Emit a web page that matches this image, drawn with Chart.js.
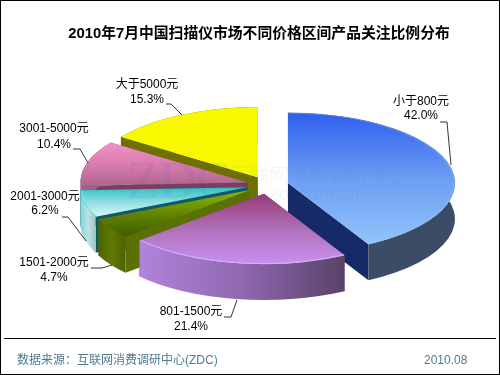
<!DOCTYPE html>
<html><head><meta charset="utf-8">
<style>html,body{margin:0;padding:0;background:#fff}canvas{display:block}</style>
<script src="https://cdn.jsdelivr.net/npm/chart.js@4"></script>
</head><body>
<canvas id="c" width="500" height="375"></canvas>
<script>
const titleText = '2010年7月中国扫描仪市场不同价格区间产品关注比例分布';
const categories = ['小于800元','801-1500元','1501-2000元','2001-3000元','3001-5000元','大于5000元'];
const shares = [42.0,21.4,4.7,6.2,10.4,15.3];
const sourceText = '数据来源：互联网消费调研中心(ZDC)';
const dateText = '2010.08';

const FONT = '"Liberation Sans","Noto Sans CJK SC",sans-serif';
const TILT = 0.42, DEPTH = 36, EXPLODE = 21, RADIUS = 167;
const paintOrder = [5,0,4,3,2,1];
const baseColors = ['#5F90F2','#B070C8','#5F8200','#60D0D5','#D078A8','#F8F800'];
const topStops = [
  ['#2F5EEE','#6C9EF4','#92C4FA'],
  ['#983878','#B070B8','#C890F0'],
  ['#8CBA00','#628600','#3F5C00'],
  ['#2FBFC5','#8FDEE0','#DAF6F6'],
  ['#F590C8','#D87CB0','#B0668E'],
  ['#F8F800','#F8F800','#F8F800']
];
const wallStops = [
  ['#3E5570','#41566F','#3A4C66'],
  ['#B084DC','#9068B0','#584268'],
  ['#4E6400','#5F7800','#4E6300'],
  ['#78D8D8','#BFE2E2','#A0C4C4'],
  ['#A06080','#A06080','#A06080'],
  ['#6E7000','#6E7000','#6E7000']
];
const cutColors = ['#152A66','#5C4470','#5A7000','#0F5A6A','#7A3E60','#6E7000'];
const rimColors = ['rgba(150,190,240,.35)','#D8ACFC',null,'rgba(127,239,240,.8)',null,null];
const labelSpots = [[421,102,116],[191,312,327],[54,263,278],[45,197,211],[54,129,145],[147,85,100]];
const leaders = [
  [[440,122],[447,122],[451,165]],
  [[224,317],[231,317],[237,300]],
  [[91,268],[102,268],[112,265]],
  [[62,217],[68,217],[86,241]],
  [[73,149],[80,149],[88,163]],
  [[166,104],[171,104],[182,115]]
];

function vGrad(ctx,y0,y1,stops){
  const g=ctx.createLinearGradient(0,y0,0,y1);
  stops.forEach((c,i)=>g.addColorStop(i/(stops.length-1),c));
  return g;
}
function hGrad(ctx,x0,x1,stops){
  const g=ctx.createLinearGradient(x0,0,x1,0);
  stops.forEach((c,i)=>g.addColorStop(i/(stops.length-1),c));
  return g;
}
const pie3d = {
  id:'pie3d',
  afterLayout(chart){ chart.titleBlock.left -= 8.6; chart.titleBlock.right -= 8.6; },
  beforeDatasetsDraw(chart){
    const ctx=chart.ctx, arcs=chart.getDatasetMeta(0).data;
    paintOrder.forEach(i=>{
      const el=arcs[i];
      const {x,y,startAngle:a0,endAngle:a1,outerRadius:r}=el.getProps(['x','y','startAngle','endAngle','outerRadius'],true);
      const mid=(a0+a1)/2;
      const ox=x+Math.cos(mid)*EXPLODE, oy=y+Math.sin(mid)*EXPLODE*TILT;
      const px=a=>ox+Math.cos(a)*r, py=a=>oy+Math.sin(a)*r*TILT;
      ctx.fillStyle=cutColors[i];
      [a0,a1].forEach(a=>{
        ctx.beginPath();
        ctx.moveTo(ox,oy);ctx.lineTo(px(a),py(a));
        ctx.lineTo(px(a),py(a)+DEPTH);ctx.lineTo(ox,oy+DEPTH);
        ctx.closePath();ctx.fill();
      });
      const xs=[px(a0),px(a1)];
      ctx.beginPath();
      ctx.ellipse(ox,oy,r,r*TILT,0,a0,a1);
      ctx.ellipse(ox,oy+DEPTH,r,r*TILT,0,a1,a0,true);
      ctx.closePath();
      ctx.fillStyle=hGrad(ctx,Math.min(...xs),Math.max(...xs),wallStops[i]);
      ctx.fill();
      const ends=[0,Math.sin(a0),Math.sin(a1)];
      const hasTop=a0<=-Math.PI/2+1e-6||a1>=1.5*Math.PI-1e-6;
      const hasBottom=a0<Math.PI/2&&a1>Math.PI/2;
      if(hasTop)ends.push(-1);
      if(hasBottom)ends.push(1);
      const yMin=y+Math.min(...ends)*r,yMax=y+Math.max(...ends)*r;
      el.options=Object.assign({},el.options,{backgroundColor:vGrad(ctx,yMin,yMax,topStops[i]),borderWidth:0,offset:0});
      ctx.save();
      ctx.translate(ox,oy);ctx.scale(1,TILT);ctx.translate(-x,-y);
      el.draw(ctx);
      ctx.restore();
      if(rimColors[i]){
        ctx.beginPath();
        ctx.ellipse(ox,oy,r-1,(r-1)*TILT,0,a0,a1);
        ctx.strokeStyle=rimColors[i];ctx.lineWidth=1.2;ctx.stroke();
      }
    });
    return false;
  },
  afterDraw(chart){
    const ctx=chart.ctx;
    ctx.save();
    ctx.textBaseline='middle';
    ctx.textAlign='left';
    ctx.fillStyle='rgba(70,90,170,.09)';
    ctx.font='52px "Liberation Serif",serif';
    ctx.fillText('ZDC',127,184);
    ctx.fillStyle='rgba(60,110,170,.055)';
    ctx.font='19.6px "Noto Sans CJK SC",sans-serif';
    ctx.fillText('互联网消费调研中心',230,175);
    ctx.textAlign='right';
    ctx.font='19px "Liberation Sans",sans-serif';
    ctx.fillText('zdc.zol.com.cn',360,195);
    ctx.fillStyle='#000';
    ctx.textAlign='center';
    ctx.font='12px '+FONT;
    categories.forEach((name,i)=>{
      const [lx,y1,y2]=labelSpots[i];
      ctx.fillText(name,lx,y1);
      ctx.fillText(shares[i].toFixed(1)+'%',lx,y2);
    });
    ctx.strokeStyle='#333';ctx.lineWidth=1;
    leaders.forEach(pts=>{
      ctx.beginPath();
      pts.forEach((p,j)=>j?ctx.lineTo(p[0],p[1]):ctx.moveTo(p[0],p[1]));
      ctx.stroke();
    });
    ctx.strokeStyle='#000';
    ctx.beginPath();ctx.moveTo(4,338.5);ctx.lineTo(496,338.5);ctx.stroke();
    ctx.fillStyle='#4F7C90';
    ctx.textAlign='left';
    ctx.fillText(sourceText,17,361);
    ctx.fillText(dateText,424,361);
    ctx.strokeStyle='#000';ctx.lineWidth=2;
    ctx.strokeRect(0,0,500,375);
    ctx.restore();
  }
};
new Chart(document.getElementById('c'),{
  type:'pie',
  data:{labels:categories,datasets:[{data:shares,backgroundColor:baseColors,borderWidth:0}]},
  options:{
    responsive:false,animation:false,
    radius:RADIUS,
    layout:{padding:{left:35.2,bottom:47.6,top:0,right:0}},
    events:[],
    plugins:{
      legend:{display:false},
      tooltip:{enabled:false},
      title:{display:true,text:titleText,color:'#000',
        font:{family:FONT,size:14.8,weight:'bold'},
        padding:{top:25,bottom:0}}
    }
  },
  plugins:[pie3d]
});
</script>
</body></html>
